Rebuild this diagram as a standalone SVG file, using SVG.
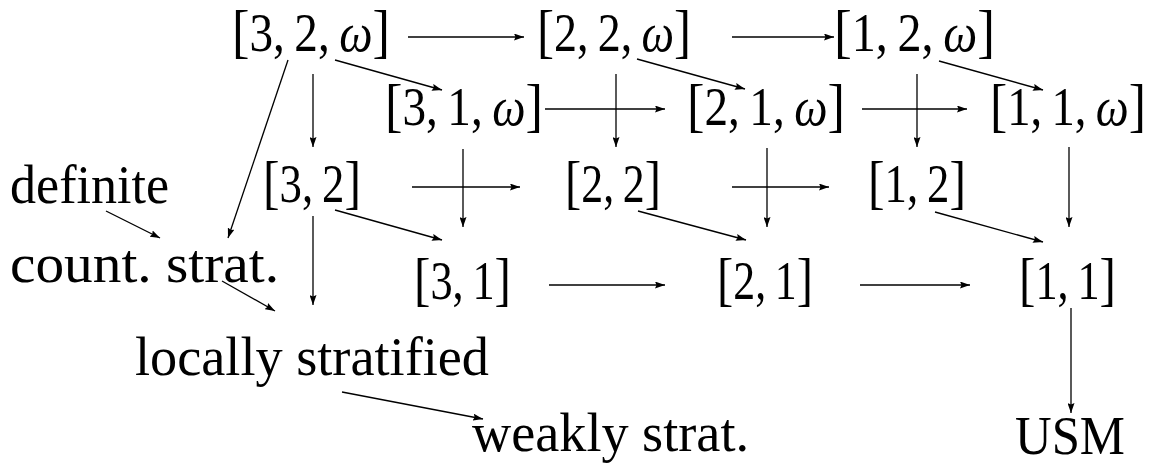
<svg xmlns="http://www.w3.org/2000/svg" width="1153" height="464" viewBox="0 0 1153 464">
  <style>
    text { font-family: "Liberation Serif", "Times New Roman", serif; font-size: 54px; fill: #000; }
    .br { font-size: 60px; }
    .w { font-style: italic; }
    .edge { stroke: #000; stroke-width: 1.3; fill: none; marker-end: url(#head); }
  </style>
  <defs>
    <marker id="head" markerUnits="userSpaceOnUse" markerWidth="11" markerHeight="7" refX="10" refY="3.5" orient="auto">
      <path d="M0,0 L10,3.5 L0,7 L1.5,3.5 z" fill="#000"/>
    </marker>
  </defs>

  <rect width="1153" height="464" fill="#fff"/>

  <!-- connectors -->
  <g id="connectors">
    <!-- row 1 horizontals -->
    <line class="edge" x1="408" y1="37" x2="524" y2="37"/>
    <line class="edge" x1="732" y1="37" x2="834" y2="37"/>
    <!-- row 1 diagonals to row 2 -->
    <line class="edge" x1="335" y1="60" x2="442" y2="90"/>
    <line class="edge" x1="637" y1="59" x2="745" y2="89"/>
    <line class="edge" x1="939" y1="61" x2="1043" y2="90"/>
    <!-- row 1 verticals to row 3 -->
    <line class="edge" x1="313" y1="74" x2="313" y2="147"/>
    <line class="edge" x1="616" y1="74" x2="616" y2="147"/>
    <line class="edge" x1="917" y1="74" x2="917" y2="147"/>
    <!-- row 2 horizontals -->
    <line class="edge" x1="545" y1="109" x2="665" y2="109"/>
    <line class="edge" x1="862" y1="109" x2="967" y2="109"/>
    <!-- row 2 verticals to row 4 -->
    <line class="edge" x1="463" y1="149" x2="463" y2="227"/>
    <line class="edge" x1="767" y1="148" x2="767" y2="227"/>
    <line class="edge" x1="1069" y1="147" x2="1069" y2="227"/>
    <!-- row 3 horizontals -->
    <line class="edge" x1="412" y1="187" x2="520" y2="187"/>
    <line class="edge" x1="732" y1="187" x2="829" y2="187"/>
    <!-- row 3 diagonals to row 4 -->
    <line class="edge" x1="335" y1="210" x2="442" y2="240"/>
    <line class="edge" x1="638" y1="211" x2="746" y2="240"/>
    <line class="edge" x1="935" y1="212" x2="1043" y2="242"/>
    <!-- row 4 horizontals -->
    <line class="edge" x1="549" y1="285" x2="665" y2="285"/>
    <line class="edge" x1="860" y1="285" x2="970" y2="285"/>
    <!-- side chain -->
    <line class="edge" x1="288" y1="60" x2="228" y2="238"/>
    <line class="edge" x1="106" y1="211" x2="160" y2="238"/>
    <line class="edge" x1="222" y1="281" x2="275" y2="311"/>
    <line class="edge" x1="313" y1="216" x2="313" y2="305"/>
    <line class="edge" x1="342" y1="392" x2="483" y2="419"/>
    <line class="edge" x1="1071" y1="308" x2="1071" y2="413"/>
  </g>

  <!-- row 1 -->
  <g id="n32w"><text x="232" y="51" textLength="158" lengthAdjust="spacingAndGlyphs"><tspan class="br">[</tspan>3,&#8201;2,&#8201;<tspan class="w">ω</tspan><tspan class="br">]</tspan></text></g>
  <g id="n22w"><text x="537" y="51" textLength="154" lengthAdjust="spacingAndGlyphs"><tspan class="br">[</tspan>2,&#8201;2,&#8201;<tspan class="w">ω</tspan><tspan class="br">]</tspan></text></g>
  <g id="n12w"><text x="834" y="51" textLength="161" lengthAdjust="spacingAndGlyphs"><tspan class="br">[</tspan>1,&#8201;2,&#8201;<tspan class="w">ω</tspan><tspan class="br">]</tspan></text></g>

  <!-- row 2 -->
  <g id="n31w"><text x="385" y="125" textLength="158" lengthAdjust="spacingAndGlyphs"><tspan class="br">[</tspan>3,&#8201;1,&#8201;<tspan class="w">ω</tspan><tspan class="br">]</tspan></text></g>
  <g id="n21w"><text x="687" y="125" textLength="158" lengthAdjust="spacingAndGlyphs"><tspan class="br">[</tspan>2,&#8201;1,&#8201;<tspan class="w">ω</tspan><tspan class="br">]</tspan></text></g>
  <g id="n11w"><text x="990" y="125" textLength="156" lengthAdjust="spacingAndGlyphs"><tspan class="br">[</tspan>1,&#8201;1,&#8201;<tspan class="w">ω</tspan><tspan class="br">]</tspan></text></g>

  <!-- row 3 -->
  <g id="n32"><text x="263" y="202" textLength="98" lengthAdjust="spacingAndGlyphs"><tspan class="br">[</tspan>3,&#8201;2<tspan class="br">]</tspan></text></g>
  <g id="n22"><text x="565" y="202" textLength="96" lengthAdjust="spacingAndGlyphs"><tspan class="br">[</tspan>2,&#8201;2<tspan class="br">]</tspan></text></g>
  <g id="n12"><text x="868" y="202" textLength="98" lengthAdjust="spacingAndGlyphs"><tspan class="br">[</tspan>1,&#8201;2<tspan class="br">]</tspan></text></g>

  <!-- row 4 -->
  <g id="n31"><text x="414" y="299" textLength="97" lengthAdjust="spacingAndGlyphs"><tspan class="br">[</tspan>3,&#8201;1<tspan class="br">]</tspan></text></g>
  <g id="n21"><text x="717" y="299" textLength="96" lengthAdjust="spacingAndGlyphs"><tspan class="br">[</tspan>2,&#8201;1<tspan class="br">]</tspan></text></g>
  <g id="n11"><text x="1019" y="299" textLength="97" lengthAdjust="spacingAndGlyphs"><tspan class="br">[</tspan>1,&#8201;1<tspan class="br">]</tspan></text></g>

  <!-- stratification classes -->
  <g id="definite"><text x="10" y="203" textLength="159" lengthAdjust="spacingAndGlyphs">definite</text></g>
  <g id="countstrat"><text x="10" y="282" textLength="269" lengthAdjust="spacingAndGlyphs">count. strat.</text></g>
  <g id="locally"><text x="135" y="375" textLength="354" lengthAdjust="spacingAndGlyphs">locally stratified</text></g>
  <g id="weakly"><text x="472" y="451" textLength="277" lengthAdjust="spacingAndGlyphs">weakly strat.</text></g>
  <g id="usm"><text x="1015" y="454" textLength="110" lengthAdjust="spacingAndGlyphs">USM</text></g>
</svg>
